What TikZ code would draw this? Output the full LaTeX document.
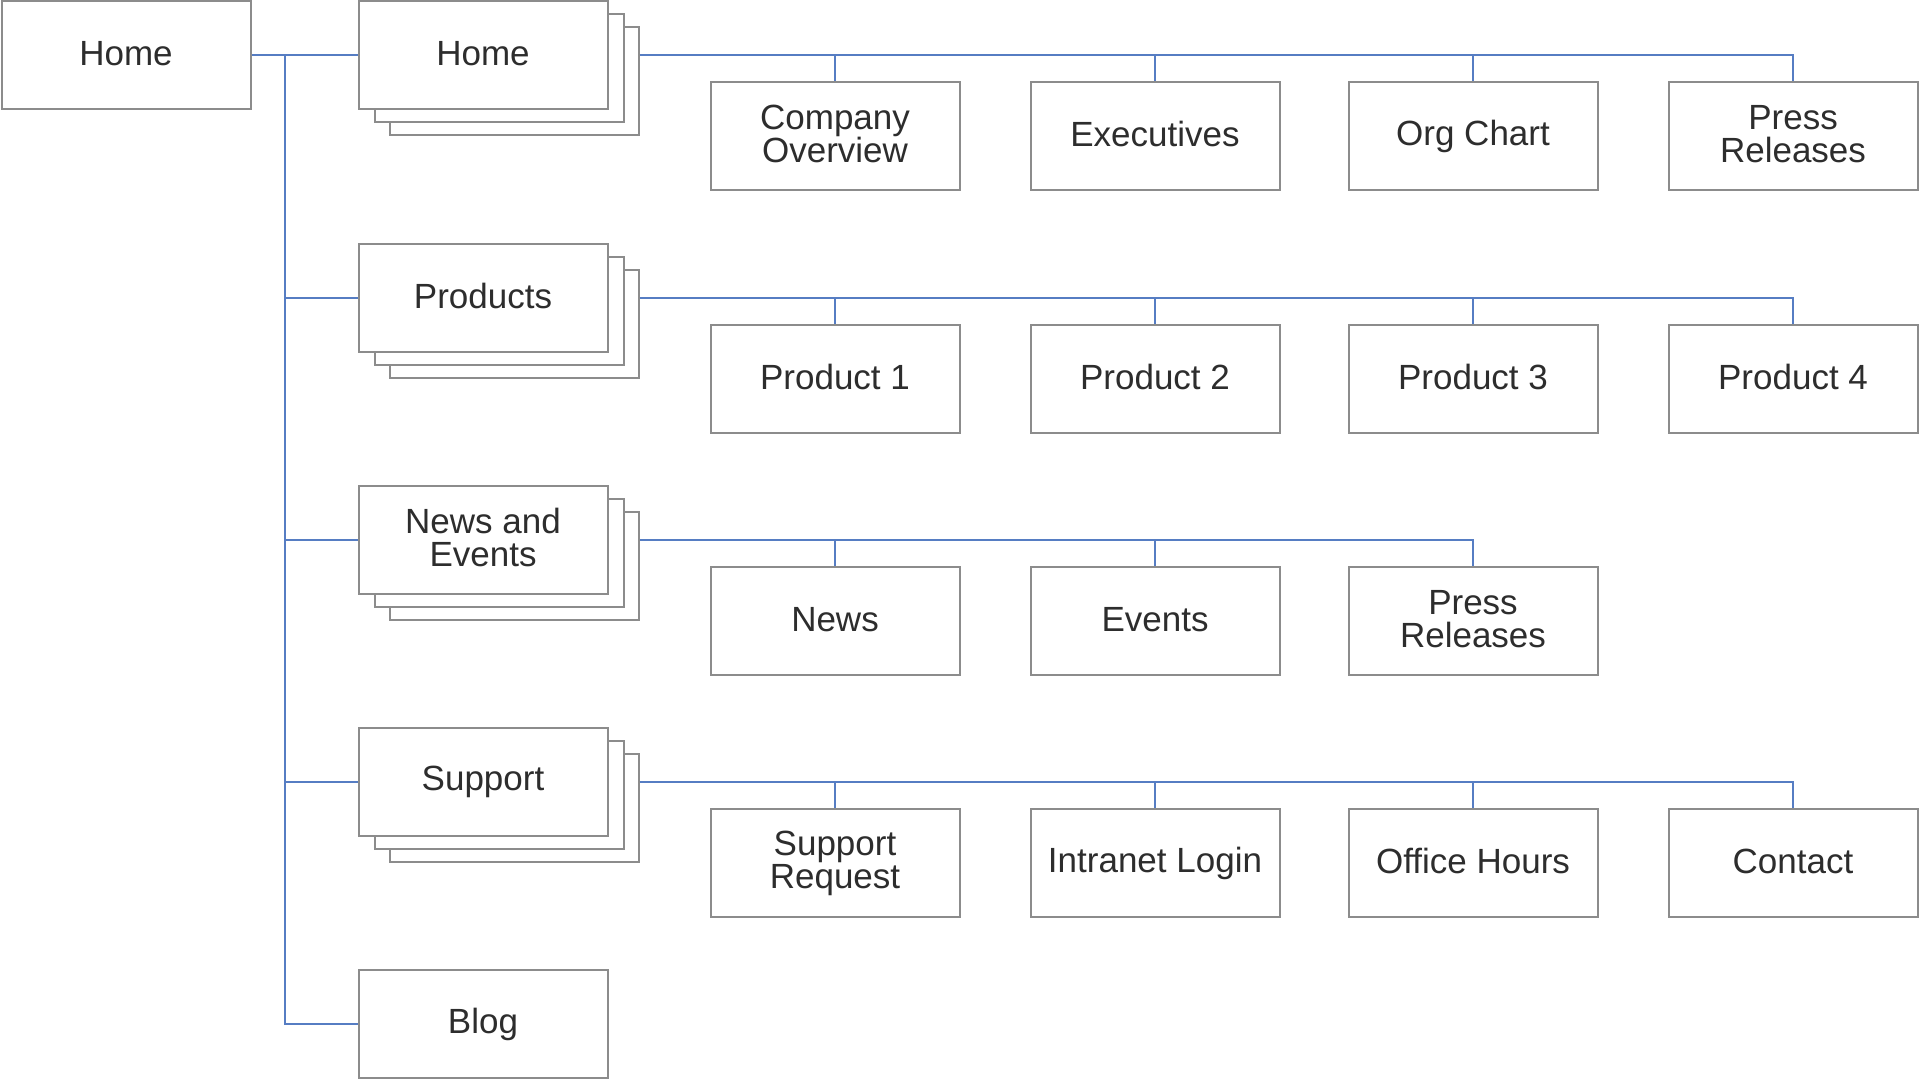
\documentclass[tikz,border=0pt]{standalone}
\usepackage{fontspec}
\setmainfont{Liberation Sans}
\definecolor{boxgray}{RGB}{140,140,140}
\definecolor{linkblue}{RGB}{86,125,195}
\definecolor{txt}{RGB}{45,45,45}
\newcommand\mystrut{\rule{0pt}{12.6pt}\rule[-2.5pt]{0pt}{2.5pt}}
\begin{document}
\begin{tikzpicture}[x=0.5pt,y=-0.5pt,
  box/.style={draw=boxgray, line width=1pt, fill=white, minimum width=124.5pt, minimum height=54pt, inner sep=0pt, text=txt,
    font=\fontsize{17.5}{16.5}\selectfont, align=center,
    execute at begin node={\mystrut}, execute at end node={\mystrut}},
  link/.style={draw=linkblue, line width=1.3pt}]
\useasboundingbox[fill=white] (0,0) rectangle (1920,1080);

% root
\node[box] (root) at (126,55) {Home};

% stacks (back boxes first)
\node[box] (s1c) at (514,81) {};
\node[box] (s1b) at (499,68) {};
\node[box] (s1) at (483,55) {Home};

\node[box] (s2c) at (514,324) {};
\node[box] (s2b) at (499,311) {};
\node[box] (s2) at (483,298) {Products};

\node[box] (s3c) at (514,566) {};
\node[box] (s3b) at (499,553) {};
\node[box] (s3) at (483,540) {News and\\Events};

\node[box] (s4c) at (514,808) {};
\node[box] (s4b) at (499,795) {};
\node[box] (s4) at (483,782) {Support};

\node[box] (blog) at (483,1024) {Blog};

% children row 1
\node[box] (c11) at (835,136) {Company\\Overview};
\node[box] (c12) at (1155,136) {Executives};
\node[box] (c13) at (1473,136) {Org Chart};
\node[box] (c14) at (1793,136) {Press\\Releases};
% row 2
\node[box] (c21) at (835,379) {Product 1};
\node[box] (c22) at (1155,379) {Product 2};
\node[box] (c23) at (1473,379) {Product 3};
\node[box] (c24) at (1793,379) {Product 4};
% row 3
\node[box] (c31) at (835,621) {News};
\node[box] (c32) at (1155,621) {Events};
\node[box] (c33) at (1473,621) {Press\\Releases};
% row 4
\node[box] (c41) at (835,863) {Support\\Request};
\node[box] (c42) at (1155,863) {Intranet Login};
\node[box] (c43) at (1473,863) {Office Hours};
\node[box] (c44) at (1793,863) {Contact};

% trunk
\coordinate (trunk) at (285,55);
\draw[link] (root.east) -- (s1.west);
\draw[link] (trunk) |- (blog.west);
\draw[link] (trunk) |- (s2.west);
\draw[link] (trunk) |- (s3.west);
\draw[link] (trunk) |- (s4.west);

% buses
\draw[link] (s1c.east |- s1.center) -- (c14.north |- s1.center) -- (c14.north);
\foreach \c in {c11,c12,c13} \draw[link] (\c.north |- s1.center) -- (\c.north);
\draw[link] (s2c.east |- s2.center) -- (c24.north |- s2.center) -- (c24.north);
\foreach \c in {c21,c22,c23} \draw[link] (\c.north |- s2.center) -- (\c.north);
\draw[link] (s3c.east |- s3.center) -- (c33.north |- s3.center) -- (c33.north);
\foreach \c in {c31,c32} \draw[link] (\c.north |- s3.center) -- (\c.north);
\draw[link] (s4c.east |- s4.center) -- (c44.north |- s4.center) -- (c44.north);
\foreach \c in {c41,c42,c43} \draw[link] (\c.north |- s4.center) -- (\c.north);
\end{tikzpicture}
\end{document}
